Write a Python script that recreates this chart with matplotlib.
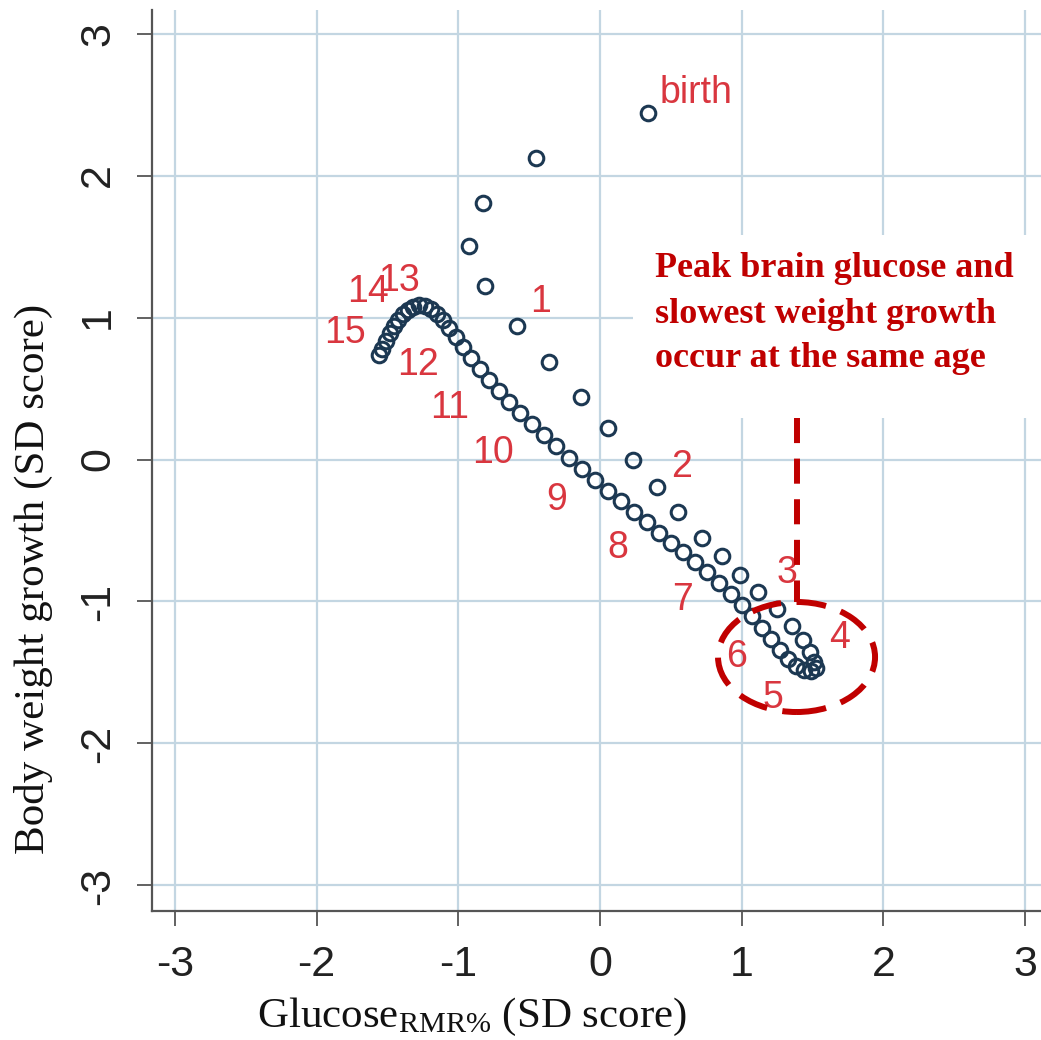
import matplotlib
matplotlib.use("Agg")
import matplotlib.pyplot as plt
from matplotlib.patches import Ellipse, Rectangle

plt.rcParams['mathtext.fontset'] = 'custom'
plt.rcParams['mathtext.rm'] = 'Liberation Serif'
plt.rcParams['mathtext.it'] = 'Liberation Serif:italic'

# ---- data (SD scores) ----
# early branch: birth -> age 4 (sparse)
glucose_early = [0.339, -0.452, -0.826, -0.924, -0.812, -0.586, -0.360, -0.134,
                 0.056, 0.233, 0.402, 0.550, 0.720, 0.861, 0.988, 1.115,
                 1.249, 1.355, 1.433, 1.482, 1.510]
weight_early = [2.440, 2.123, 1.806, 1.504, 1.222, 0.940, 0.687, 0.440,
                0.222, -0.004, -0.194, -0.370, -0.553, -0.680, -0.813, -0.933,
                -1.053, -1.173, -1.271, -1.356, -1.426]

# later branch: age 4 -> 15 (dense)
glucose_late = [1.524, 1.489, 1.440, 1.383, 1.327, 1.270, 1.207, 1.143, 1.073,
                1.002, 0.924, 0.840, 0.755, 0.670, 0.586, 0.501, 0.416, 0.332,
                0.240, 0.148, 0.056, -0.035, -0.127, -0.219, -0.311, -0.395,
                -0.480, -0.565, -0.642, -0.713, -0.783, -0.847, -0.910, -0.967,
                -1.016, -1.066, -1.108, -1.150, -1.193, -1.235, -1.277, -1.320,
                -1.355, -1.390, -1.426, -1.454, -1.482, -1.510, -1.538, -1.560]
weight_late = [-1.468, -1.489, -1.482, -1.454, -1.405, -1.342, -1.264, -1.187,
               -1.102, -1.025, -0.947, -0.870, -0.792, -0.722, -0.651, -0.588,
               -0.518, -0.440, -0.370, -0.292, -0.222, -0.144, -0.067, 0.011,
               0.095, 0.173, 0.250, 0.327, 0.405, 0.482, 0.560, 0.637, 0.715,
               0.792, 0.863, 0.926, 0.982, 1.025, 1.060, 1.081, 1.088, 1.074,
               1.053, 1.025, 0.982, 0.940, 0.891, 0.835, 0.778, 0.736]

# age labels
age_text = ['1', '2', '3', '4', '5', '6', '7', '8', '9', '10', '11', '12',
            '13', '14', '15']
age_x = [-0.416, 0.579, 1.320, 1.694, 1.221, 0.967, 0.579, 0.127, -0.303,
         -0.755, -1.059, -1.285, -1.419, -1.637, -1.800]
age_y = [1.109, -0.053, -0.799, -1.257, -1.680, -1.391, -0.989, -0.623,
         -0.285, 0.046, 0.363, 0.666, 1.257, 1.180, 0.891]
birth_pos = (0.423, 2.511)

note_lines = ['Peak brain glucose and', 'slowest weight growth',
              'occur at the same age']
peak_center = (1.387, -1.391)
peak_size = (1.108, 0.775)

xticks = [-3, -2, -1, 0, 1, 2, 3]
yticks = [-3, -2, -1, 0, 1, 2, 3]

# ---- figure ----
W, H = 1041, 1040
fig = plt.figure(figsize=(W / 100, H / 100), dpi=100)
ax = fig.add_axes([152 / W, 1 - 911 / H, 1 - 152 / W, (911 - 10) / H])
ax.set_xlim(-3.161, 3.112)
ax.set_ylim(-3.180, 3.166)

ax.set_axisbelow(True)
ax.grid(True, color='#c3d6e2', linewidth=1.6)
for s in ['top', 'right']:
    ax.spines[s].set_visible(False)
for s in ['left', 'bottom']:
    ax.spines[s].set_color('#555555')
    ax.spines[s].set_linewidth(1.6)

ax.set_xticks(xticks)
ax.set_yticks(yticks)
ax.set_xticklabels([str(v) for v in xticks], fontfamily='Liberation Sans')
ax.set_yticklabels([str(v) for v in yticks], fontfamily='Liberation Sans',
                   rotation=90, va='center')
ax.tick_params(axis='both', length=10.5, width=1.3, color='#555555',
               labelsize=31, labelcolor='#222222', pad=14)

# white box behind the note
ax.add_patch(Rectangle((0.233, 0.292), 3.0, 1.289, facecolor='white',
                       edgecolor='none', zorder=1))

mk = dict(linestyle='none', marker='o', markersize=10.5, markerfacecolor='none',
          markeredgecolor='#1c3852', markeredgewidth=2.2, zorder=3)
ax.plot(glucose_early, weight_early, **mk)
ax.plot(glucose_late, weight_late, **mk)

lab_col = '#d9363f'
for t, x, y in zip(age_text, age_x, age_y):
    ax.text(x, y, t, color=lab_col, fontsize=27, ha='center', va='center',
            fontfamily='Liberation Sans', zorder=4)
ax.text(birth_pos[0], birth_pos[1], 'birth', color=lab_col, fontsize=27,
        ha='left', va='baseline', fontfamily='Liberation Sans', zorder=4)

red = '#c00000'
ax.add_patch(Ellipse(peak_center, peak_size[0], peak_size[1], fill=False,
                     edgecolor=red, linewidth=4.3, linestyle=(0, (5, 2.6)),
                     zorder=5))
ax.plot([peak_center[0], peak_center[0]], [0.292, peak_center[1] + peak_size[1] / 2],
        color=red, linewidth=4.3, linestyle=(0, (4.2, 2.6)), zorder=5)

baselines = [277, 323, 367]
for line, b in zip(note_lines, baselines):
    fig.text(655 / W, 1 - b / H, line, color=red, fontsize=26,
             fontweight='bold', fontfamily='Liberation Serif',
             ha='left', va='baseline')

fig.text(33 / W, 1 - 579 / H, 'Body weight growth (SD score)', rotation=90,
         fontsize=31, fontfamily='Liberation Serif', color='#111111',
         ha='center', va='center')
fig.text(472 / W, 1 - 1027 / H, r'Glucose$_{\mathrm{RMR\%}}$ (SD score)',
         fontsize=31, fontfamily='Liberation Serif', color='#111111',
         ha='center', va='baseline')

fig.savefig('out.png', dpi=100)
